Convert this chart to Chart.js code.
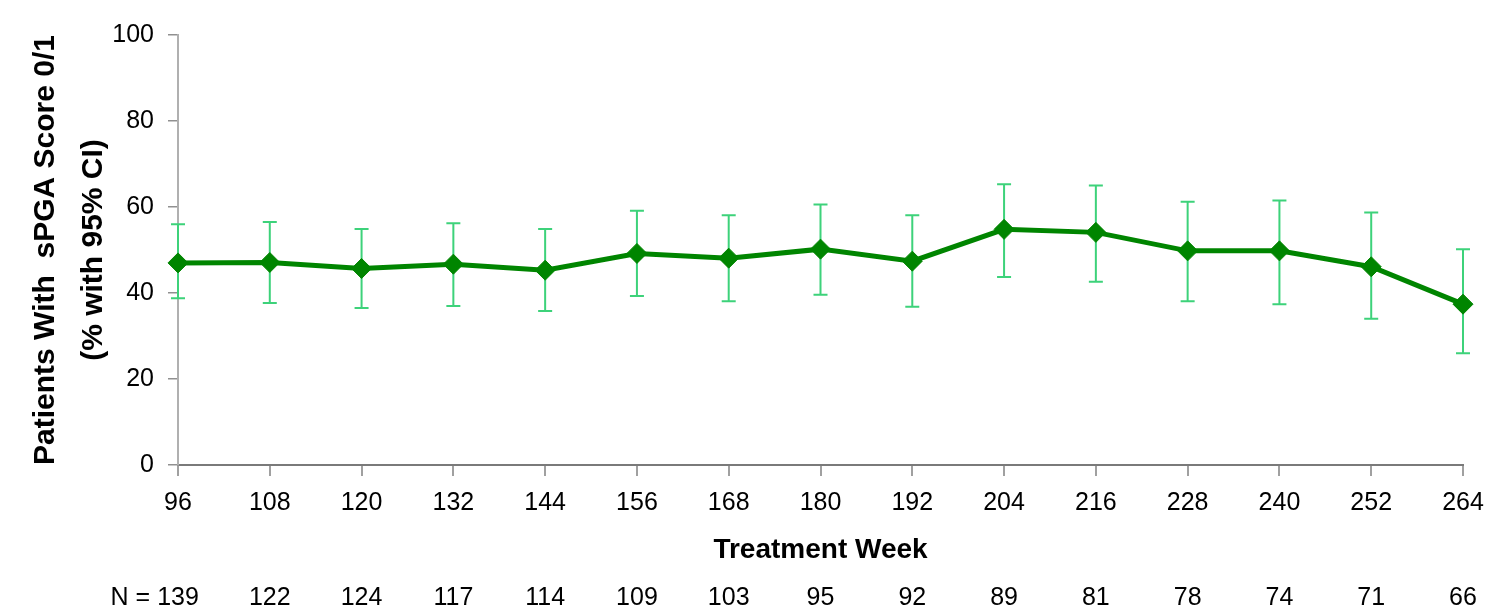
<!DOCTYPE html>
<html>
<head>
<meta charset="utf-8">
<script src="https://cdn.jsdelivr.net/npm/chart.js@4.4.1/dist/chart.umd.min.js"></script>
<style>
  html, body { margin: 0; padding: 0; background: #ffffff; }
  #wrap { width: 1488px; height: 613px; }
</style>
</head>
<body>
<div id="wrap"><canvas id="c" width="1488" height="613"></canvas></div>
<script>
// ---- data ----
const weeks = ['96','108','120','132','144','156','168','180','192','204','216','228','240','252','264'];
const pctValues = [47.0, 47.1, 45.7, 46.7, 45.3, 49.2, 48.1, 50.2, 47.4, 54.8, 54.1, 49.8, 49.8, 46.1, 37.4];
const ciLower   = [38.8, 37.7, 36.5, 37.0, 35.8, 39.3, 38.1, 39.6, 36.8, 43.7, 42.6, 38.1, 37.4, 34.0, 26.0];
const ciUpper   = [56.0, 56.5, 54.9, 56.2, 54.9, 59.1, 58.1, 60.6, 58.1, 65.3, 65.0, 61.2, 61.5, 58.7, 50.2];
const nValues   = ['139','122','124','117','114','109','103','95','92','89','81','78','74','71','66'];
const yTicks    = [0, 20, 40, 60, 80, 100];
const yTitle    = ['Patients With  sPGA Score 0/1', '(% with 95% CI)'];
const xTitle    = 'Treatment Week';
const nPrefix   = 'N = ';

const FONT = "'Liberation Sans', Arial, sans-serif";

const errorBars = {
  id: 'errorBars',
  beforeDatasetsDraw(chart) {
    const ctx = chart.ctx, x = chart.scales.x, y = chart.scales.y;
    ctx.save();
    ctx.strokeStyle = '#3dd27a';
    ctx.lineWidth = 2;
    for (let i = 0; i < weeks.length; i++) {
      const px = x.getPixelForValue(i);
      const top = y.getPixelForValue(ciUpper[i]);
      const bot = y.getPixelForValue(ciLower[i]);
      ctx.beginPath();
      ctx.moveTo(px, top); ctx.lineTo(px, bot);
      ctx.moveTo(px - 7, top); ctx.lineTo(px + 7, top);
      ctx.moveTo(px - 7, bot); ctx.lineTo(px + 7, bot);
      ctx.stroke();
    }
    ctx.restore();
  }
};

const nRow = {
  id: 'nRow',
  afterDraw(chart) {
    const ctx = chart.ctx, x = chart.scales.x;
    ctx.save();
    ctx.fillStyle = '#000';
    ctx.font = "25px " + FONT;
    ctx.textBaseline = 'middle';
    ctx.textAlign = 'center';
    const yy = 598;
    for (let i = 0; i < nValues.length; i++) {
      ctx.fillText(nValues[i], x.getPixelForValue(i), yy);
    }
    const w0 = ctx.measureText(nValues[0]).width;
    ctx.textAlign = 'right';
    ctx.fillText(nPrefix, x.getPixelForValue(0) - w0 / 2, yy);
    ctx.restore();
  }
};

new Chart(document.getElementById('c'), {
  type: 'line',
  data: {
    labels: weeks,
    datasets: [{
      data: pctValues,
      borderColor: '#008500',
      backgroundColor: '#008500',
      borderWidth: 5,
      pointStyle: 'rectRot',
      pointRadius: 10,
      pointHoverRadius: 10,
      pointBackgroundColor: '#008500',
      pointBorderColor: '#008500',
      pointBorderWidth: 1,
      tension: 0,
      fill: false
    }]
  },
  options: {
    responsive: false,
    animation: false,
    events: [],
    layout: { padding: { top: 35, right: 25, bottom: 0, left: 0 } },
    plugins: { legend: { display: false }, tooltip: { enabled: false } },
    scales: {
      x: {
        type: 'category',
        offset: false,
        afterFit(s) { s.height = 148; s.paddingLeft = 0; s.paddingRight = 0; },
        grid: { display: true, drawOnChartArea: false, drawTicks: true, tickLength: 11, color: '#a0a0a0', lineWidth: 2 },
        border: { display: true, color: '#7a7a7a', width: 2 },
        ticks: { color: '#000', font: { family: FONT, size: 25 }, padding: 12, maxRotation: 0, autoSkip: false },
        title: { display: true, text: xTitle, color: '#000', font: { family: FONT, size: 28, weight: 'bold' }, padding: { top: 0, bottom: 46 } }
      },
      y: {
        min: 0, max: 100,
        afterFit(s) { s.width = 178; s.paddingTop = 0; s.paddingBottom = 0; },
        afterBuildTicks(s) { s.ticks = yTicks.map(v => ({ value: v })); },
        grid: { display: true, drawOnChartArea: false, drawTicks: true, tickLength: 10, color: '#909090', lineWidth: 1.5 },
        border: { display: true, color: '#b0b0b0', width: 2 },
        ticks: { color: '#000', font: { family: FONT, size: 25 }, padding: 14 },
        title: { display: true, text: yTitle, color: '#000', font: { family: FONT, size: 30, weight: 'bold', lineHeight: 1.6 }, padding: { top: 22, bottom: 0 } }
      }
    }
  },
  plugins: [errorBars, nRow]
});
</script>
</body>
</html>
